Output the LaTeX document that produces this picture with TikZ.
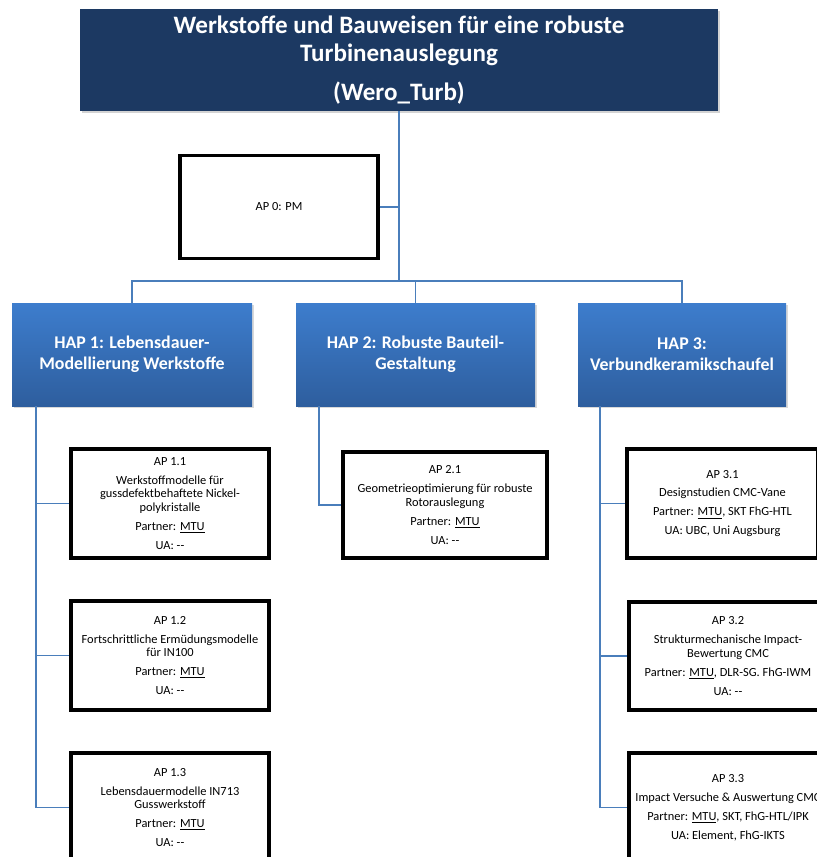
\documentclass[tikz,border=0pt]{standalone}
\usepackage{fontspec}
\setmainfont{Carlito}
\usepackage{tikz}
\usetikzlibrary{shadows}
\definecolor{navy}{RGB}{28, 57, 98}
\definecolor{haptop}{RGB}{61, 125, 205}
\definecolor{hapbot}{RGB}{46, 94, 158}
\definecolor{linkblue}{RGB}{74, 126, 187}

\tikzset{
  titlebox/.style={fill=navy, text=white, minimum width=478.5pt, minimum height=76.5pt,
    align=center, font=\fontsize{18.8}{21}\selectfont\bfseries,
    drop shadow={shadow xshift=1.2pt, shadow yshift=-1.2pt, opacity=0.35}},
  hapbox/.style={top color=haptop, bottom color=hapbot, text=white, minimum height=77.25pt,
    align=center, font=\fontsize{13.4}{15.5}\selectfont\bfseries,
    drop shadow={shadow xshift=1.2pt, shadow yshift=-1.2pt, opacity=0.3}},
  apbox/.style={draw=black, line width=2.6pt, fill=white, align=center, inner sep=2pt,
    font=\fontsize{9.3}{10.2}\selectfont},
  conn/.style={draw=linkblue, line width=0.8pt}
}

\begin{document}
\begin{tikzpicture}[x=0.75pt, y=-0.75pt]
  \useasboundingbox (0,0) rectangle (817,857);
  \clip (0,0) rectangle (817,857);

  % Project
  \node [titlebox] (title) at (399,60)
    {Werkstoffe und Bauweisen für eine robuste\\ Turbinenauslegung\\[8pt] (Wero\_Turb)};
  \node [apbox, minimum width=148.5pt, minimum height=77.25pt] (ap0) at (279,207) {AP 0: PM};

  % Main packages
  \node [hapbox, minimum width=180pt] (hap1) at (132,354.5)
    {HAP 1: Lebensdauer-\\ Modellierung Werkstoffe};
  \node [hapbox, minimum width=179.25pt] (hap2) at (415.5,354.5)
    {HAP 2: Robuste Bauteil-\\ Gestaltung};
  \node [hapbox, minimum width=156pt] (hap3) at (682,354.5)
    {HAP 3:\\ Verbundkeramikschaufel};

  % HAP 1
  \node [apbox, minimum width=148.5pt, minimum height=81.75pt] (ap11) at (170,503.5)
    {AP 1.1\\[4pt] Werkstoffmodelle für\\ gussdefektbehaftete Nickel-\\ polykristalle\\[4pt]
     Partner: \underline{MTU}\\[4pt] UA: -{}-};
  \node [apbox, minimum width=148.5pt, minimum height=81.75pt] (ap12) at (170,655.5)
    {AP 1.2\\[4pt] Fortschrittliche Ermüdungsmodelle\\ für IN100\\[4pt]
     Partner: \underline{MTU}\\[4pt] UA: -{}-};
  \node [apbox, minimum width=148.5pt, minimum height=81.75pt] (ap13) at (170,807.5)
    {AP 1.3\\[4pt] Lebensdauermodelle IN713\\ Gusswerkstoff\\[4pt]
     Partner: \underline{MTU}\\[4pt] UA: -{}-};

  % HAP 2
  \node [apbox, minimum width=153pt, minimum height=79.5pt] (ap21) at (445,505)
    {AP 2.1\\[4pt] Geometrieoptimierung für robuste\\ Rotorauslegung\\[4pt]
     Partner: \underline{MTU}\\[4pt] UA: -{}-};

  % HAP 3
  \node [apbox, minimum width=143.25pt, minimum height=81.75pt] (ap31) at (722.5,503.5)
    {AP 3.1\\[4pt] Designstudien CMC-Vane\\[4pt]
     Partner: \underline{MTU}, SKT FhG-HTL\\[4pt] UA: UBC, Uni Augsburg};
  \node [apbox, minimum width=148.5pt, minimum height=81pt] (ap32) at (728,656)
    {AP 3.2\\[4pt] Strukturmechanische Impact-\\ Bewertung CMC\\[4pt]
     Partner: \underline{MTU}, DLR-SG. FhG-IWM\\[4pt] UA: -{}-};
  \node [apbox, minimum width=148.5pt, minimum height=81.75pt] (ap33) at (728,807.5)
    {AP 3.3\\[4pt] Impact Versuche \& Auswertung CMC\\[4pt]
     Partner: \underline{MTU}, SKT, FhG-HTL/IPK\\[4pt] UA: Element, FhG-IKTS};

  % Tree lines
  \coordinate (bus) at (399,281);
  \draw [conn] (title.south) -- (bus);
  \draw [conn] (ap0.east) -- (ap0.east -| bus);
  \draw [conn] (hap1.north) |- (bus) -| (hap3.north);
  \draw [conn] (hap2.north) -- (hap2.north |- bus);

  \coordinate (h1) at (36,406);
  \coordinate (h2) at (319,406);
  \coordinate (h3) at (600,406);
  \draw [conn] (h1) |- (ap13.west);
  \draw [conn] (h1 |- ap11.west) -- (ap11.west);
  \draw [conn] (h1 |- ap12.west) -- (ap12.west);
  \draw [conn] (h2) |- (ap21.west);
  \draw [conn] (h3) |- (ap33.west);
  \draw [conn] (h3 |- ap31.west) -- (ap31.west);
  \draw [conn] (h3 |- ap32.west) -- (ap32.west);
\end{tikzpicture}
\end{document}
